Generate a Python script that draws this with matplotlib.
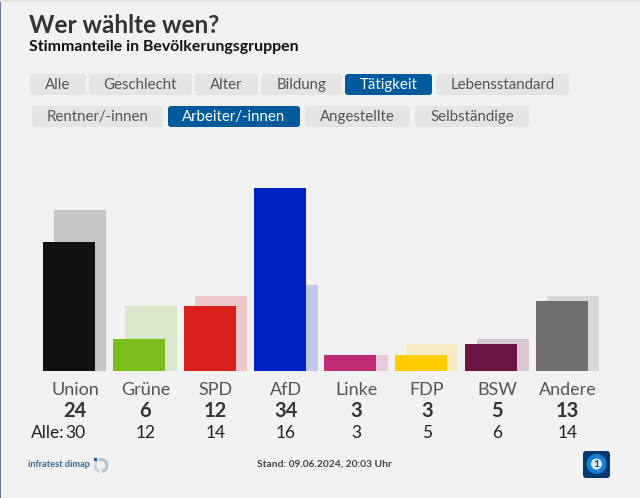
import matplotlib
matplotlib.use('Agg')
import matplotlib.pyplot as plt
from matplotlib.patches import FancyBboxPatch, Circle, Wedge, Rectangle

parties = ['Union', 'Grüne', 'SPD', 'AfD', 'Linke', 'FDP', 'BSW', 'Andere']
arbeiter = [24, 6, 12, 34, 3, 3, 5, 13]
alle = [30, 12, 14, 16, 3, 5, 6, 14]
colors = ['#111111', '#7bbd1a', '#d9201c', '#0021c6', '#c02d75', '#ffcc00', '#69153f', '#6f6f6f']
pale_colors = ['#c5c5c5', '#dbe7ca', '#eec8c8', '#c1c8e9', '#e9c9da', '#f4ebc2', '#dbc7d2', '#d8d8d8']

row1 = ['Alle', 'Geschlecht', 'Alter', 'Bildung', 'Tätigkeit', 'Lebensstandard']
row1_x = [(30, 86), (89, 192), (195, 258), (261, 342), (345, 432), (436, 569)]
row2 = ['Rentner/-innen', 'Arbeiter/-innen', 'Angestellte', 'Selbständige']
row2_x = [(32, 163), (168, 300), (305, 410), (415, 529)]
active = ['Tätigkeit', 'Arbeiter/-innen']

plt.rcParams['font.family'] = ['Lato', 'DejaVu Sans']

W, H = 640, 498
BG = '#f1f1f1'
STEP = 70.36
fig = plt.figure(figsize=(W / 100, H / 100), dpi=100, facecolor=BG)

# whole figure as a pixel canvas for text and buttons
canvas = fig.add_axes([0, 0, 1, 1])
canvas.set_xlim(0, W)
canvas.set_ylim(H, 0)
canvas.axis('off')


def button(x0, x1, y0, y1, label):
    on = label in active
    canvas.add_patch(FancyBboxPatch((x0 + 3, y0 + 3), x1 - x0 - 6, y1 - y0 - 6,
                                    boxstyle='round,pad=3,rounding_size=3',
                                    fc='#005a9c' if on else '#e4e4e4', ec='none'))
    canvas.text((x0 + x1) / 2, (y0 + y1) / 2 + 0.5, label, ha='center', va='center',
                fontsize=10.8, color='white' if on else '#555555')


canvas.text(29, 25.5, 'Wer wählte wen?', fontsize=17.5, fontweight='bold',
            color='#333333', va='center')
canvas.text(29, 47, 'Stimmanteile in Bevölkerungsgruppen', fontsize=11.4,
            fontweight='bold', color='#111111', va='center')

for label, (x0, x1) in zip(row1, row1_x):
    button(x0, x1, 74, 95, label)
for label, (x0, x1) in zip(row2, row2_x):
    button(x0, x1, 106, 127, label)

# bars, y scale: 34 -> 183 px tall
ax = fig.add_axes([0, (H - 371) / H, 1, 200 / H], facecolor='none')
ax.set_ylim(0, 200 / (183 / 34))
ax.axis('off')
ax.set_xlim(-43 / STEP, (W - 43) / STEP)
pos = list(range(8))
ax.bar([p + 0.163 for p in pos], alle, width=0.739, align='edge', color=pale_colors)
ax.bar(pos, arbeiter, width=0.739, align='edge', color=colors)

for i, name in enumerate(parties):
    cx = 75 + i * STEP
    canvas.text(cx, 390, name, ha='center', va='center', fontsize=13, color='#555555')
    canvas.text(cx, 411, str(arbeiter[i]), ha='center', va='center', fontsize=14.5,
                fontweight='bold', color='#333333')
    canvas.text(cx, 433, str(alle[i]), ha='center', va='center', fontsize=12.5, color='#222222')
canvas.text(31, 433, 'Alle:', ha='left', va='center', fontsize=12.5, color='#222222')

# footer
canvas.text(28.5, 464.5, 'infratest dimap', fontsize=6.6, fontweight='bold',
            color='#2f6b9a', va='center')
canvas.add_patch(Wedge((101, 465.5), 7.5, -110, 80, width=3, fc='#b4c2cc', ec='none'))
canvas.add_patch(Wedge((101, 465.5), 7.5, 100, 240, width=3, fc='#cfd8de', ec='none'))
canvas.add_patch(Rectangle((94, 458), 3, 3, fc='#1d5c94', ec='none'))
canvas.text(324.5, 464.5, 'Stand: 09.06.2024, 20:03 Uhr', ha='center', va='center', fontsize=7.4,
            fontweight='bold', color='#444444')

# tagesschau badge
canvas.add_patch(FancyBboxPatch((585, 453), 23, 23, boxstyle='round,pad=2,rounding_size=3',
                                fc='#04386e', ec='none'))
canvas.add_patch(Circle((596.5, 464), 10, fc='#1b7fd0', ec='none'))
canvas.add_patch(Circle((596.5, 464), 5.5, fc='#d8ecf8', ec='none'))
canvas.text(596.5, 464, '1', ha='center', va='center', fontsize=7.5, fontweight='bold', color='#0a4f94')

# thin dark line on the left edge, lighter strip at the top
canvas.add_patch(Rectangle((0, 0), 1, H, fc='#6d7390', ec='none'))
canvas.add_patch(Rectangle((0, 0), W, 1.5, fc='#e2e2e2', ec='none'))

fig.savefig('out.png', dpi=100, facecolor=BG)
